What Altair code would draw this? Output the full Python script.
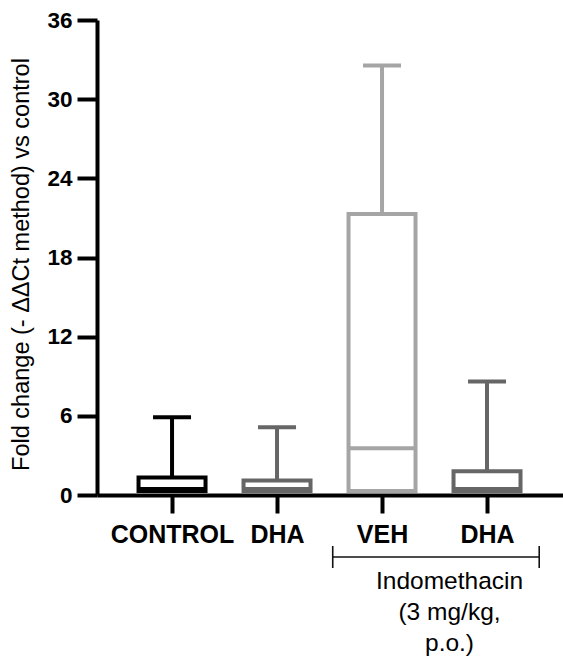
import json
import altair as alt
import pandas as pd

# ---- data ----
groups = ["CONTROL", "DHA", "VEH", "DHA"]
keys = ["control", "dha", "veh", "dha_indo"]
positions = [1, 2, 3, 4]
q1 = [0.3, 0.3, 0.3, 0.3]
medians = [0.45, 0.45, 3.55, 0.45]
q3 = [1.32, 1.1, 21.3, 1.8]
maxs = [5.9, 5.13, 32.55, 8.6]
colors = ["#000000", "#666666", "#a5a5a5", "#666666"]
y_ticks = [0, 6, 12, 18, 24, 30, 36]
y_title = "Fold change (- \u0394\u0394Ct method) vs control"
bracket_groups = [3, 4]
bracket_label = ["Indomethacin", "(3 mg/kg,", "p.o.)"]

FONT = "Liberation Sans"

df = pd.DataFrame({
    "key": keys, "group": groups, "pos": positions,
    "q1": q1, "median": medians, "q3": q3, "max": maxs,
})
bracket_df = pd.DataFrame({"pos": [bracket_groups[0]], "pos2": [bracket_groups[1]],
                           "mid": [(bracket_groups[0] + bracket_groups[1]) / 2]})

label_expr = "%s[datum.value - 1]" % json.dumps(groups)

axis_style = dict(domainColor="#000000", domainWidth=4, domainCap="butt",
                  tickColor="#000000", tickWidth=4, tickCap="butt", grid=False)

x_scale = alt.Scale(domain=[0.333, 4.676], nice=False, zero=False)
x_axis = alt.Axis(values=positions, labelExpr=label_expr, title=None,
                  tickSize=18, labelPadding=29, labelBaseline="alphabetic",
                  labelFontSize=25, labelFontWeight="bold", labelFont=FONT,
                  labelColor="#000000", **axis_style)
y_scale = alt.Scale(domain=[0, 36], nice=False, zero=True)
y_axis = alt.Axis(values=y_ticks, title=y_title, tickSize=20, labelPadding=5,
                  labelFontSize=22.5, labelFontWeight="bold", labelFont=FONT,
                  labelColor="#000000", titleFont=FONT, titleFontSize=23.5,
                  titleFontWeight="normal", titleColor="#000000",
                  titleAngle=-90, titleX=-69, titleY=244,
                  titleBaseline="alphabetic", titleAlign="center", **axis_style)

stroke = alt.Stroke("key:N", scale=alt.Scale(domain=keys, range=colors), legend=None)

base = alt.Chart(df)

boxes = base.mark_bar(size=67, fill="white", strokeWidth=4, opacity=1).encode(
    x=alt.X("pos:Q", scale=x_scale, axis=x_axis),
    y=alt.Y("q1:Q", scale=y_scale, axis=y_axis),
    y2="q3:Q",
    stroke=stroke,
)

median_rule = base.mark_rule(strokeWidth=4, strokeCap="butt", xOffset=-33.5, x2Offset=33.5).encode(
    x=alt.X("pos:Q", scale=x_scale, axis=x_axis),
    x2="pos:Q",
    y=alt.Y("median:Q", scale=y_scale, axis=y_axis),
    stroke=stroke,
)

whisker = base.mark_rule(strokeWidth=4, strokeCap="butt").encode(
    x=alt.X("pos:Q", scale=x_scale, axis=x_axis),
    y=alt.Y("q3:Q", scale=y_scale, axis=y_axis),
    y2="max:Q",
    stroke=stroke,
)

caps = base.mark_rule(strokeWidth=4, strokeCap="butt", xOffset=-19, x2Offset=19).encode(
    x=alt.X("pos:Q", scale=x_scale, axis=x_axis),
    x2="pos:Q",
    y=alt.Y("max:Q", scale=y_scale, axis=y_axis),
    stroke=stroke,
)

bracket_base = alt.Chart(bracket_df)
bracket_h = bracket_base.mark_rule(color="#111111", strokeWidth=1.6, xOffset=-49.3, x2Offset=52.2).encode(
    x=alt.X("pos:Q", scale=x_scale, axis=x_axis),
    x2="pos2:Q",
    y=alt.value(537),
)
bracket_l = bracket_base.mark_rule(color="#111111", strokeWidth=1.6, xOffset=-49.3).encode(
    x=alt.X("pos:Q", scale=x_scale, axis=x_axis),
    y=alt.value(526), y2=alt.value(548),
)
bracket_r = bracket_base.mark_rule(color="#111111", strokeWidth=1.6, xOffset=52.2).encode(
    x=alt.X("pos2:Q", scale=x_scale, axis=x_axis),
    y=alt.value(526), y2=alt.value(548),
)
bracket_text = bracket_base.mark_text(
    font=FONT, fontSize=24.5, align="center", baseline="alphabetic",
    lineHeight=31, dx=15, color="#000000",
).encode(
    x=alt.X("mid:Q", scale=x_scale, axis=x_axis),
    y=alt.value(569),
    text=alt.value(bracket_label),
)

chart = alt.layer(
    boxes, median_rule, whisker, caps, bracket_h, bracket_l, bracket_r, bracket_text
).properties(
    width=466, height=475,
    autosize=alt.AutoSizeParams(type="none"),
    padding={"left": 97, "top": 20, "right": 0, "bottom": 165},
    background="white",
).configure_view(stroke=None)

chart.save("out.html", embed_options={"renderer": "svg", "actions": False})
